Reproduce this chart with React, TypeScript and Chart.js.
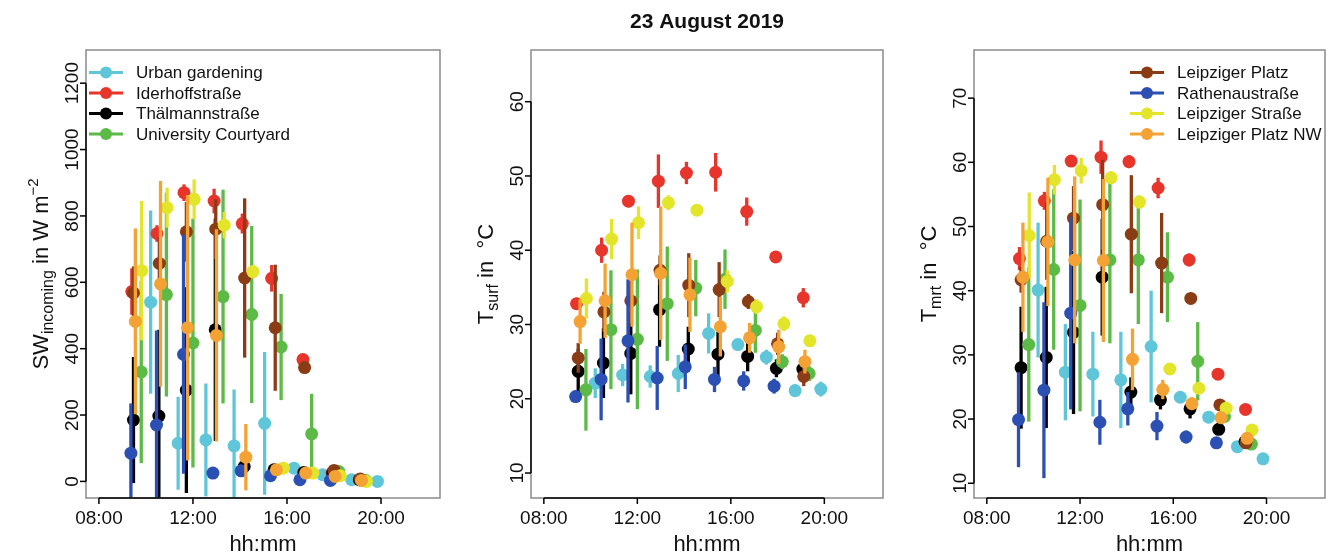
import React, { useEffect, useRef } from "react";
import { Chart, registerables } from "chart.js";
Chart.register(...registerables);

const FONT = "'Liberation Sans', Arial, Helvetica, sans-serif";
const W = 1332;
const H = 556;

// ---------- labels / ticks ----------
const titleText = "23 August 2019";
const xTitle = "hh:mm";
const xTickValues = [8, 12, 16, 20];
const xTickLabels = ["08:00", "12:00", "16:00", "20:00"];
const swTicks = [0, 200, 400, 600, 800, 1000, 1200];
const tsTicks = [10, 20, 30, 40, 50, 60];
const tmTicks = [10, 20, 30, 40, 50, 60, 70];

const siteNames = [
  "Urban gardening",
  "Iderhoffstraße",
  "Thälmannstraße",
  "University Courtyard",
  "Leipziger Platz",
  "Rathenaustraße",
  "Leipziger Straße",
  "Leipziger Platz NW",
];
const siteColors = ["#5fc6da", "#e8352b", "#000000", "#5cba47", "#8a3c14", "#2c4fb3", "#e2e52a", "#f4a233"];

// ---------- data (time in decimal hours) ----------
// Urban gardening
const ugTime = [10.2, 11.37, 12.55, 13.75, 15.05, 16.3, 17.52, 18.75, 19.85];
const ugSW = [540, 115, 125, 107, 175, 40, 20, 5, 0];
const ugSWsd = [276, 140, 170, 170, 215, 8, 5, 3, 2];
const ugTs = [22.1, 23.2, 23.0, 23.4, 28.8, 27.3, 25.6, 21.1, 21.3];
const ugTsSd = [2, 1.5, 1.5, 2.5, 2.7, 0.8, 1, 0.8, 1];
const ugTm = [40.1, 27.3, 27.0, 26.1, 31.3, 23.4, 20.3, 15.7, 13.8];
const ugTmSd = [10.5, 7.5, 6.6, 7.5, 8.7, 0.5, 0.5, 0.5, 0.5];
// Iderhoffstraße
const idTime = [9.4, 10.47, 11.62, 12.9, 14.1, 15.35, 16.68, 17.92, 19.1];
const idSW = [572, 747, 870, 845, 777, 612, 367, 25, 5];
const idSWsd = [70, 25, 25, 37, 30, 40, 15, 5, 3];
const idTs = [32.8, 40.0, 46.6, 49.3, 50.4, 50.5, 45.2, 39.1, 33.6];
const idTsSd = [0.8, 1.7, 0.8, 3.6, 1.5, 2.6, 1.9, 0.8, 1.3];
const idTm = [45.0, 54.0, 60.2, 60.8, 60.1, 56.0, 44.8, 27.0, 21.5];
const idTmSd = [1.8, 1.4, 0.8, 2.6, 1.0, 1.6, 1.0, 0.5, 0.5];
// Thälmannstraße
const thTime = [9.47, 10.55, 11.72, 12.95, 14.18, 15.45, 16.72, 17.95, 19.08];
const thSW = [185, 197, 275, 457, 45, 35, 27, 25, 5];
const thSWsd = [190, 260, 310, 335, 10, 8, 8, 5, 3];
const thTs = [23.7, 24.8, 26.1, 32.0, 26.7, 26.0, 25.7, 24.1, 24.0];
const thTsSd = [3, 4.7, 5.5, 5, 3, 3, 2, 1.2, 1.2];
const thTm = [28.0, 29.6, 33.5, 42.1, 24.2, 23.0, 21.6, 18.4, 16.5];
const thTmSd = [9.5, 11, 12.7, 9.1, 2.3, 1.5, 1.5, 0.6, 0.5];
// University Courtyard
const ucTime = [9.8, 10.87, 12.0, 13.28, 14.5, 15.75, 17.05, 18.2, 19.35];
const ucSW = [330, 563, 417, 557, 503, 405, 143, 30, 3];
const ucSWsd = [275, 307, 375, 322, 267, 160, 121, 8, 3];
const ucTs = [21.2, 29.3, 28.0, 32.8, 34.9, 36.1, 29.2, 25.0, 23.4];
const ucTsSd = [5.5, 8, 9.4, 7.7, 3.8, 4, 3, 1, 1];
const ucTm = [31.6, 43.3, 37.7, 44.8, 44.8, 42.1, 29.0, 20.4, 16.1];
const ucTmSd = [12, 12.5, 16.5, 13, 10, 7, 6.1, 0.5, 0.5];
// Leipziger Platz
const lpTime = [9.47, 10.57, 11.72, 12.97, 14.2, 15.5, 16.75, 18.0, 19.12];
const lpSW = [568, 657, 752, 760, 613, 463, 343, 33, 7];
const lpSWsd = [80, 80, 90, 90, 240, 190, 15, 8, 3];
const lpTs = [25.5, 31.7, 33.2, 37.3, 35.3, 34.7, 33.1, 27.4, 23.0];
const lpTsSd = [2, 2.7, 3, 2, 4.3, 3.7, 1, 1.5, 1.3];
const lpTm = [41.7, 47.7, 51.3, 53.4, 48.8, 44.3, 38.8, 22.2, 16.3];
const lpTmSd = [2, 6, 5, 7, 9.2, 7.8, 0.8, 0.8, 0.5];
// Rathenaustraße
const raTime = [9.36, 10.45, 11.6, 12.85, 14.05, 15.3, 16.55, 17.85];
const raSW = [85, 170, 383, 25, 32, 17, 5, 3];
const raSWsd = [150, 285, 360, 10, 10, 5, 3, 2];
const raTs = [20.3, 22.6, 27.8, 22.8, 24.3, 22.6, 22.4, 21.7];
const raTsSd = [0.8, 5.5, 8.3, 4.3, 3, 1.7, 1.3, 1.0];
const raTm = [19.9, 24.5, 36.5, 19.5, 21.6, 18.9, 17.2, 16.3];
const raTmSd = [7.4, 13.7, 15, 3.5, 2.6, 2.2, 1, 0.4];
// Leipziger Straße
const lsTime = [9.82, 10.9, 12.05, 13.33, 14.55, 15.85, 17.1, 18.27, 19.38];
const lsSW = [635, 825, 850, 772, 632, 40, 25, 17, 0];
const lsSWsd = [210, 60, 60, 40, 20, 8, 5, 4, 2];
const lsTs = [33.5, 41.5, 43.7, 46.4, 45.4, 35.8, 32.4, 30.1, 27.8];
const lsTsSd = [2.7, 2.7, 2.2, 1, 0.8, 1.5, 1, 1, 0.8];
const lsTm = [48.6, 57.3, 58.7, 57.6, 53.8, 27.8, 24.8, 21.7, 18.3];
const lsTmSd = [6.7, 2.3, 2, 1, 1, 0.5, 0.6, 0.5, 0.5];
// Leipziger Platz NW
const nwTime = [9.55, 10.62, 11.77, 13.0, 14.25, 15.55, 16.8, 18.05, 19.17];
const nwSW = [482, 595, 463, 440, 73, 35, 25, 15, 3];
const nwSWsd = [280, 310, 400, 320, 100, 8, 5, 4, 2];
const nwTs = [30.4, 33.2, 36.7, 36.9, 34.0, 29.7, 28.2, 27.0, 25.0];
const nwTsSd = [3, 5, 7, 9, 5, 4, 2, 2.3, 1.6];
const nwTm = [42.1, 47.6, 44.8, 44.7, 29.3, 24.6, 22.4, 20.2, 17.0];
const nwTmSd = [8.5, 10, 13, 12.7, 4.8, 1.5, 1, 0.5, 0.5];

const siteTimes = [ugTime, idTime, thTime, ucTime, lpTime, raTime, lsTime, nwTime];
const swMeans = [ugSW, idSW, thSW, ucSW, lpSW, raSW, lsSW, nwSW];
const swSds = [ugSWsd, idSWsd, thSWsd, ucSWsd, lpSWsd, raSWsd, lsSWsd, nwSWsd];
const tsMeans = [ugTs, idTs, thTs, ucTs, lpTs, raTs, lsTs, nwTs];
const tsSds = [ugTsSd, idTsSd, thTsSd, ucTsSd, lpTsSd, raTsSd, lsTsSd, nwTsSd];
const tmMeans = [ugTm, idTm, thTm, ucTm, lpTm, raTm, lsTm, nwTm];
const tmSds = [ugTmSd, idTmSd, thTmSd, ucTmSd, lpTmSd, raTmSd, lsTmSd, nwTmSd];

type Part = { t: string; s: number; dy: number };

type PanelCfg = {
  box: { l: number; t: number; r: number; b: number };
  yMin: number;
  yMax: number;
  yTicks: number[];
  means: number[][];
  sds: number[][];
  yTitle: Part[];
  legendItems: number[];
  legendX: number;
  showTitle: boolean;
};

const panels: PanelCfg[] = [
  {
    box: { l: 86, t: 50, r: 440, b: 498 },
    yMin: -50,
    yMax: 1300,
    yTicks: swTicks,
    means: swMeans,
    sds: swSds,
    yTitle: [
      { t: "SW", s: 22, dy: 0 },
      { t: "incoming", s: 16, dy: 5 },
      { t: " in W m", s: 22, dy: 0 },
      { t: "\u22122", s: 15, dy: -10 },
    ],
    legendItems: [0, 1, 2, 3],
    legendX: 89,
    showTitle: false,
  },
  {
    box: { l: 531, t: 50, r: 883, b: 498 },
    yMin: 6.64,
    yMax: 66.96,
    yTicks: tsTicks,
    means: tsMeans,
    sds: tsSds,
    yTitle: [
      { t: "T", s: 22, dy: 0 },
      { t: "surf", s: 16, dy: 5 },
      { t: " in  \u00B0C", s: 22, dy: 0 },
    ],
    legendItems: [],
    legendX: 0,
    showTitle: true,
  },
  {
    box: { l: 974, t: 50, r: 1325, b: 498 },
    yMin: 7.7,
    yMax: 77.5,
    yTicks: tmTicks,
    means: tmMeans,
    sds: tmSds,
    yTitle: [
      { t: "T", s: 22, dy: 0 },
      { t: "mrt", s: 16, dy: 5 },
      { t: " in  \u00B0C", s: 22, dy: 0 },
    ],
    legendItems: [4, 5, 6, 7],
    legendX: 1130,
    showTitle: false,
  },
];

const legendRowsY = [72.5, 93, 113.5, 134];

function makePlugin(cfg: PanelCfg) {
  return {
    id: "rstyle",
    beforeDatasetDraw(chart: any, args: any) {
      const ds = chart.data.datasets[args.index];
      const sd: number[] = ds.sd;
      const xs = chart.scales.x;
      const ys = chart.scales.y;
      const ca = chart.chartArea;
      const ctx = chart.ctx;
      ctx.save();
      ctx.beginPath();
      ctx.rect(ca.left, ca.top, ca.right - ca.left, ca.bottom - ca.top);
      ctx.clip();
      ctx.strokeStyle = ds.backgroundColor;
      ctx.lineWidth = 3.3;
      ctx.lineCap = "butt";
      ds.data.forEach((p: any, i: number) => {
        const px = xs.getPixelForValue(p.x);
        const y1 = ys.getPixelForValue(p.y - sd[i]);
        const y2 = ys.getPixelForValue(p.y + sd[i]);
        ctx.beginPath();
        ctx.moveTo(px, y1);
        ctx.lineTo(px, y2);
        ctx.stroke();
      });
      ctx.restore();
    },
    afterDraw(chart: any) {
      const ctx = chart.ctx;
      const xs = chart.scales.x;
      const ys = chart.scales.y;
      const { l, t, r, b } = cfg.box;
      ctx.save();
      // grey box
      ctx.strokeStyle = "#8a8a8a";
      ctx.lineWidth = 1.5;
      ctx.strokeRect(l, t, r - l, b - t);
      // axes
      ctx.strokeStyle = "#000";
      ctx.lineWidth = 1.5;
      const yTop = ys.getPixelForValue(cfg.yTicks[cfg.yTicks.length - 1]);
      const yBot = ys.getPixelForValue(cfg.yTicks[0]);
      ctx.beginPath();
      ctx.moveTo(l, yTop);
      ctx.lineTo(l, yBot);
      ctx.stroke();
      cfg.yTicks.forEach((v) => {
        const py = ys.getPixelForValue(v);
        ctx.beginPath();
        ctx.moveTo(l, py);
        ctx.lineTo(l - 6, py);
        ctx.stroke();
      });
      const xL = xs.getPixelForValue(xTickValues[0]);
      const xR = xs.getPixelForValue(xTickValues[xTickValues.length - 1]);
      ctx.beginPath();
      ctx.moveTo(xL, b);
      ctx.lineTo(xR, b);
      ctx.stroke();
      xTickValues.forEach((v) => {
        const px = xs.getPixelForValue(v);
        ctx.beginPath();
        ctx.moveTo(px, b);
        ctx.lineTo(px, b + 6);
        ctx.stroke();
      });
      // tick labels
      ctx.fillStyle = "#111";
      ctx.font = `19px ${FONT}`;
      ctx.textAlign = "center";
      ctx.textBaseline = "middle";
      xTickValues.forEach((v, i) => {
        ctx.fillText(xTickLabels[i], xs.getPixelForValue(v), 519);
      });
      cfg.yTicks.forEach((v) => {
        const py = ys.getPixelForValue(v);
        ctx.save();
        ctx.translate(l - 13, py);
        ctx.rotate(-Math.PI / 2);
        ctx.fillText(String(v), 0, 0);
        ctx.restore();
      });
      // x title
      ctx.font = `22px ${FONT}`;
      ctx.fillText(xTitle, (l + r) / 2, 545);
      // y title (rotated, with sub/superscripts)
      let total = 0;
      cfg.yTitle.forEach((p) => {
        ctx.font = `${p.s}px ${FONT}`;
        total += ctx.measureText(p.t).width;
      });
      ctx.save();
      ctx.translate(l - 38, (t + b) / 2);
      ctx.rotate(-Math.PI / 2);
      ctx.textAlign = "left";
      ctx.textBaseline = "alphabetic";
      let cx = -total / 2;
      cfg.yTitle.forEach((p) => {
        ctx.font = `${p.s}px ${FONT}`;
        ctx.fillText(p.t, cx, p.dy);
        cx += ctx.measureText(p.t).width;
      });
      ctx.restore();
      // main title
      if (cfg.showTitle) {
        ctx.font = `bold 21px ${FONT}`;
        ctx.textAlign = "center";
        ctx.textBaseline = "middle";
        ctx.fillText(titleText, (l + r) / 2, 22);
      }
      // legend
      cfg.legendItems.forEach((si, k) => {
        const y = legendRowsY[k];
        const lx = cfg.legendX;
        ctx.strokeStyle = siteColors[si];
        ctx.lineWidth = 3;
        ctx.beginPath();
        ctx.moveTo(lx, y);
        ctx.lineTo(lx + 34, y);
        ctx.stroke();
        ctx.fillStyle = siteColors[si];
        ctx.beginPath();
        ctx.arc(lx + 17, y, 6, 0, Math.PI * 2);
        ctx.fill();
        ctx.fillStyle = "#111";
        ctx.font = `17px ${FONT}`;
        ctx.textAlign = "left";
        ctx.textBaseline = "middle";
        ctx.fillText(siteNames[si], lx + 47, y + 1);
      });
      ctx.restore();
    },
  };
}

function Panel({ cfg }: { cfg: PanelCfg }) {
  const ref = useRef<HTMLCanvasElement>(null);
  useEffect(() => {
    if (!ref.current) return;
    const datasets = siteNames.map((name, i) => ({
      label: name,
      data: siteTimes[i].map((tt, j) => ({ x: tt, y: cfg.means[i][j] })),
      sd: cfg.sds[i],
      backgroundColor: siteColors[i],
      borderColor: siteColors[i],
      pointRadius: 6.5,
      pointBorderWidth: 0,
      showLine: false,
      order: 10 - i,
    }));
    const chart = new Chart(ref.current, {
      type: "scatter",
      data: { datasets: datasets as any },
      options: {
        responsive: false,
        animation: false,
        devicePixelRatio: 1,
        layout: {
          padding: { left: cfg.box.l, top: cfg.box.t, right: W - cfg.box.r, bottom: H - cfg.box.b },
        },
        plugins: { legend: { display: false }, tooltip: { enabled: false }, title: { display: false } },
        scales: {
          x: { type: "linear", min: 7.45, max: 22.51, display: false },
          y: { type: "linear", min: cfg.yMin, max: cfg.yMax, display: false },
        },
      },
      plugins: [makePlugin(cfg)],
    });
    return () => chart.destroy();
  }, []);
  return (
    <canvas
      ref={ref}
      width={W}
      height={H}
      style={{ position: "absolute", left: 0, top: 0, width: W, height: H }}
    />
  );
}

export default function App() {
  return (
    <div style={{ position: "fixed", left: 0, top: 0, width: W, height: H, background: "#fff", overflow: "hidden" }}>
      {panels.map((p, i) => (
        <Panel key={i} cfg={p} />
      ))}
    </div>
  );
}
